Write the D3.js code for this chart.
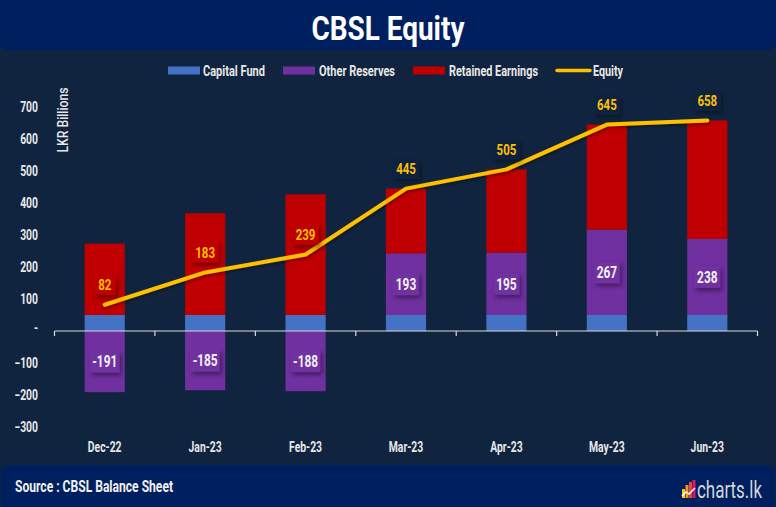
<!DOCTYPE html>
<html><head><meta charset="utf-8">
<script src="https://cdn.jsdelivr.net/npm/d3@7"></script>
<style>
html,body{margin:0;padding:0;background:#11243f;}
svg{display:block;}
text{font-family:Roboto,"Noto Sans",sans-serif;font-weight:bold;}
</style></head>
<body>
<svg id="chart" width="776" height="507"></svg>
<script>
const categories = ["Dec-22","Jan-23","Feb-23","Mar-23","Apr-23","May-23","Jun-23"];
const capitalFund = [50,50,50,50,50,50,50];
const otherReserves = [-191,-185,-188,193,195,267,238];
const retainedEarnings = [223,318,377,202,260,328,370];
const equity = [82,183,239,445,505,645,658];
const yTicks = [-300,-200,-100,0,100,200,300,400,500,600,700];
const seriesNames = ["Capital Fund","Other Reserves","Retained Earnings","Equity"];

const colors = {cap:"#4472C4", res:"#7030A0", ret:"#C00000", eq:"#FFC000", bg:"#11243f", banner:"#001f5f"};
const K = 0.74; // horizontal condensing of glyphs

function squeeze(sel, k){
  sel.each(function(){
    const l = this.getComputedTextLength();
    this.setAttribute("textLength", (l*k).toFixed(2));
    this.setAttribute("lengthAdjust","spacingAndGlyphs");
  });
  return sel;
}
function fitTo(sel, w){
  sel.each(function(){
    this.setAttribute("textLength", w);
    this.setAttribute("lengthAdjust","spacingAndGlyphs");
  });
  return sel;
}

const svg = d3.select("#chart");
const W = 776, H = 507;
svg.append("rect").attr("width",W).attr("height",H).attr("fill",colors.bg);

const defs = svg.append("defs");
const f = defs.append("filter").attr("id","sh").attr("x","-50%").attr("y","-50%").attr("width","200%").attr("height","200%");
f.append("feDropShadow").attr("dx",2).attr("dy",3).attr("stdDeviation",2).attr("flood-color","#000").attr("flood-opacity",0.4);
const f2 = defs.append("filter").attr("id","lsh").attr("x","-10%").attr("y","-50%").attr("width","120%").attr("height","200%");
f2.append("feDropShadow").attr("dx",1).attr("dy",2).attr("stdDeviation",1.5).attr("flood-color","#000").attr("flood-opacity",0.35);

// Title banner
svg.append("rect").attr("x",0).attr("y",-8).attr("width",W).attr("height",58).attr("rx",8).attr("fill",colors.banner);
fitTo(svg.append("text").attr("x",W/2).attr("y",40).attr("text-anchor","middle").attr("fill","#ffffff")
  .attr("font-size",34).text("CBSL Equity"), 153);

// Footer banner
svg.append("rect").attr("x",1).attr("y",465).attr("width",W-2).attr("height",50).attr("rx",8).attr("fill",colors.banner);
fitTo(svg.append("text").attr("x",15).attr("y",492).attr("fill","#f0f0f0").attr("font-size",16).text("Source : CBSL Balance Sheet"), 158);
// logo
const logo = svg.append("g").attr("transform","translate(682,480)");
[["#f5c518",0,9],["#f7941d",3.5,13],["#e8473f",7,16],["#d81b60",10.5,18]].forEach(([c,x,h])=>{
  logo.append("rect").attr("x",x).attr("y",18-h).attr("width",3).attr("height",h).attr("fill",c);
});
logo.append("polyline").attr("points","0,16 4,12 7,14 13,8").attr("fill","none").attr("stroke","#fff").attr("stroke-width",1.5);
const brand = svg.append("g").attr("transform","translate(697,498)");
const brandText = brand.append("text").attr("x",0).attr("y",0).attr("fill","#d6d6d6").attr("font-size",24)
  .style("font-weight","normal").text("charts.lk");
const bl = brandText.node().getComputedTextLength();
brand.attr("transform",`translate(697,498) scale(${(65/bl).toFixed(3)},1)`);

// Scales
const x = d3.scaleBand().domain(categories).range([54.5,757.5]).padding(0);
const y = d3.scaleLinear().domain([-300,700]).range([427,107]);
const bw = x.bandwidth()*0.4;
const cx = d => x(d) + x.bandwidth()/2;

// Legend
const legend = svg.append("g").attr("font-size",14);
const legItems = [
  {name:seriesNames[0], c:colors.cap, x0:168, tx:203, w:62, type:"rect"},
  {name:seriesNames[1], c:colors.res, x0:283, tx:319, w:76, type:"rect"},
  {name:seriesNames[2], c:colors.ret, x0:413, tx:449, w:89, type:"rect"},
  {name:seriesNames[3], c:colors.eq, x0:555, tx:593, w:30, type:"line"}
];
legItems.forEach(it=>{
  if(it.type==="rect") legend.append("rect").attr("x",it.x0).attr("y",66.5).attr("width",32).attr("height",8).attr("fill",it.c);
  else legend.append("line").attr("x1",it.x0+2).attr("x2",it.x0+35).attr("y1",70.5).attr("y2",70.5).attr("stroke",it.c).attr("stroke-width",3.5).attr("stroke-linecap","round");
  fitTo(legend.append("text").attr("x",it.tx).attr("y",76).attr("fill","#e8e8e8").text(it.name), it.w);
});

// Y axis labels
const yAxis = d3.axisLeft(y).tickValues(yTicks).tickSize(0).tickPadding(0)
  .tickFormat(d => d===0 ? "-" : d3.format("d")(d));
const ga = svg.append("g").attr("transform","translate(38,0)").call(yAxis);
ga.select(".domain").remove();
ga.selectAll("text").attr("fill","#e8e8e8").attr("font-size",14).attr("font-family",null).attr("dy","0.35em");
ga.selectAll(".tick").filter(d=>d===0).select("text").attr("dy","0.1em");
squeeze(ga.selectAll("text"), K);

fitTo(svg.append("text").attr("transform",`translate(68,120) rotate(-90)`).attr("text-anchor","middle")
  .attr("fill","#e8e8e8").attr("font-size",14).style("font-weight","500").text("LKR Billions"), 65);

// Data rows
const rows = categories.map((c,i)=>({c, cap:capitalFund[i], res:otherReserves[i], ret:retainedEarnings[i], eq:equity[i]}));

const bars = svg.append("g");
rows.forEach(r=>{
  const x0 = cx(r.c) - bw/2;
  bars.append("rect").attr("x",x0).attr("width",bw).attr("y",y(r.cap)).attr("height",y(0)-y(r.cap)).attr("fill",colors.cap);
  let posBase = r.cap;
  if(r.res<0){
    bars.append("rect").attr("x",x0).attr("width",bw).attr("y",y(0)).attr("height",y(r.res)-y(0)).attr("fill",colors.res);
  } else {
    bars.append("rect").attr("x",x0).attr("width",bw).attr("y",y(posBase+r.res)).attr("height",y(posBase)-y(posBase+r.res)).attr("fill",colors.res);
    posBase += r.res;
  }
  bars.append("rect").attr("x",x0).attr("width",bw).attr("y",y(posBase+r.ret)).attr("height",y(posBase)-y(posBase+r.ret)).attr("fill",colors.ret);
  r.retTop = posBase + r.ret; r.retBot = posBase;
  r.resMid = r.res<0 ? r.res/2 : r.cap + r.res/2;
});

// x axis
const gx = svg.append("g").attr("transform",`translate(0,${y(0)})`);
gx.append("line").attr("x1",54.5).attr("x2",757.5).attr("y1",0).attr("y2",0).attr("stroke","#d9d9d9").attr("stroke-width",1.2);
const bounds = categories.map(c=>x(c)).concat([x(categories[categories.length-1])+x.bandwidth()]);
gx.selectAll("line.tk").data(bounds).join("line").attr("class","tk")
  .attr("x1",d=>d).attr("x2",d=>d).attr("y1",0).attr("y2",5).attr("stroke","#d9d9d9").attr("stroke-width",1.2);

// x labels
squeeze(svg.append("g").selectAll("text").data(categories).join("text")
  .attr("x",d=>cx(d)).attr("y",452).attr("text-anchor","middle").attr("fill","#e8e8e8").attr("font-size",14).text(d=>d), K);

// reserve labels
const resL = svg.append("g");
rows.forEach(r=>{
  const t = r.res<0 ? "-" + Math.abs(r.res) : String(r.res);
  const g = resL.append("g").attr("transform",`translate(${cx(r.c)},${y(r.resMid)})`);
  const rect = g.append("rect").attr("y",-11).attr("height",22).attr("fill",colors.res).attr("filter","url(#sh)");
  const tx = g.append("text").attr("text-anchor","middle").attr("dy","0.36em").attr("fill","#f2f2f2").attr("font-size",16).text(t);
  squeeze(tx, K);
  const w = tx.node().getComputedTextLength()*K + 11;
  rect.attr("x",-w/2).attr("width",w);
});

// Equity line
const line = d3.line().x(d=>cx(d.c)).y(d=>y(d.eq));
svg.append("path").datum(rows).attr("d",line).attr("fill","none").attr("stroke",colors.eq)
  .attr("stroke-width",4).attr("stroke-linecap","round").attr("stroke-linejoin","round").attr("filter","url(#lsh)");

// Equity labels
const eqL = svg.append("g");
rows.forEach(r=>{
  const ly = y(r.eq) - 20;
  const inRed = ly > y(r.retTop) && ly < y(r.retBot);
  const t = String(r.eq);
  const g = eqL.append("g").attr("transform",`translate(${cx(r.c)},${ly})`);
  const rect = g.append("rect").attr("y",-10).attr("height",20).attr("fill",inRed?colors.ret:colors.bg).attr("filter","url(#sh)");
  const tx = g.append("text").attr("text-anchor","middle").attr("dy","0.36em").attr("fill",colors.eq).attr("font-size",15.5).text(t);
  squeeze(tx, K);
  const w = tx.node().getComputedTextLength()*K + 12;
  rect.attr("x",-w/2).attr("width",w);
});
</script>
</body></html>
